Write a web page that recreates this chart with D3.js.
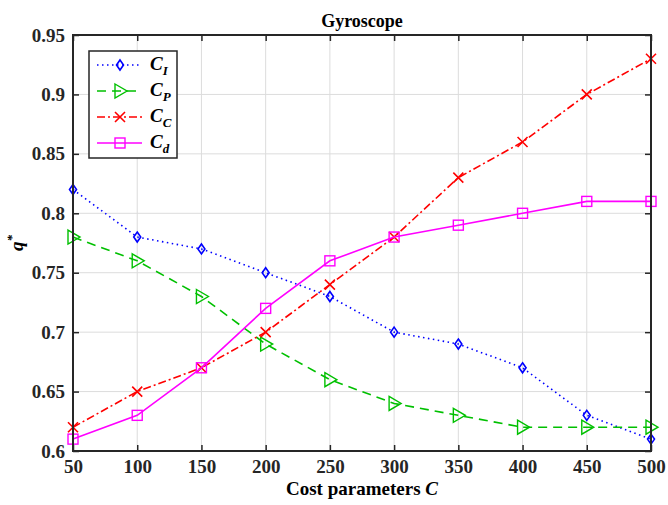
<!DOCTYPE html>
<html>
<head>
<meta charset="utf-8">
<script src="https://cdn.jsdelivr.net/npm/d3@7"></script>
</head>
<body style="margin:0">
<div id="chart"></div>
<script>
"use strict";

const costs = [50, 100, 150, 200, 250, 300, 350, 400, 450, 500];
const cI = [0.82, 0.78, 0.77, 0.75, 0.73, 0.70, 0.69, 0.67, 0.63, 0.61];
const cP = [0.78, 0.76, 0.73, 0.69, 0.66, 0.64, 0.63, 0.62, 0.62, 0.62];
const cC = [0.62, 0.65, 0.67, 0.70, 0.74, 0.78, 0.83, 0.86, 0.90, 0.93];
const cD = [0.61, 0.63, 0.67, 0.72, 0.76, 0.78, 0.79, 0.80, 0.81, 0.81];
const yTicks = [0.6, 0.65, 0.7, 0.75, 0.8, 0.85, 0.9, 0.95];

const series = [
    { name: "I", values: cI, color: "#0000ff", dash: "1.5,3.5", marker: "diamond" },
    { name: "P", values: cP, color: "#00c000", dash: "9,6", marker: "triangle" },
    { name: "C", values: cC, color: "#ff0000", dash: "8,3,2,3", marker: "cross" },
    { name: "d", values: cD, color: "#ff00ff", dash: null, marker: "square" }
];

const FONT = "Liberation Serif";
const margin = { top: 35, right: 17, bottom: 54, left: 73 };
const width = 668 - margin.left - margin.right;
const height = 505 - margin.top - margin.bottom;

const xScale = d3.scaleLinear().domain([50, 500]).range([0, width]);
const yScale = d3.scaleLinear().domain([0.6, 0.95]).range([height, 0]);

const svg = d3.select("#chart").append("svg")
              .attr("width", 668)
              .attr("height", 505)
              .attr("font-family", FONT);
const g = svg.append("g")
             .attr("transform", `translate(${margin.left}, ${margin.top})`);

// grid
g.append("g").selectAll("line").data(costs).enter().append("line")
 .attr("x1", d => xScale(d)).attr("x2", d => xScale(d))
 .attr("y1", 0).attr("y2", height)
 .attr("stroke", "#dcdcdc").attr("stroke-width", 1);
g.append("g").selectAll("line").data(yTicks).enter().append("line")
 .attr("y1", d => yScale(d)).attr("y2", d => yScale(d))
 .attr("x1", 0).attr("x2", width)
 .attr("stroke", "#dcdcdc").attr("stroke-width", 1);

// axes
const styleAxis = sel => {
    sel.attr("font-family", FONT).attr("font-size", 19);
    sel.select(".domain").remove();
    sel.selectAll("line").attr("stroke", "#262626").attr("stroke-width", 1.5);
    sel.selectAll("text")
       .attr("font-family", FONT)
       .attr("font-size", 19)
       .attr("font-weight", "bold")
       .attr("fill", "#262626");
};
g.append("g").attr("transform", `translate(0, ${height})`)
 .call(d3.axisBottom(xScale).tickValues(costs).tickSize(-6).tickPadding(9))
 .call(styleAxis);
g.append("g")
 .call(d3.axisTop(xScale).tickValues(costs).tickSize(-6).tickFormat(""))
 .call(styleAxis);
g.append("g")
 .call(d3.axisLeft(yScale).tickValues(yTicks).tickSize(-6).tickPadding(8)
         .tickFormat(d => String(+d.toFixed(2))))
 .call(styleAxis);
g.append("g").attr("transform", `translate(${width}, 0)`)
 .call(d3.axisRight(yScale).tickValues(yTicks).tickSize(-6).tickFormat(""))
 .call(styleAxis);

const drawMarker = (sel, type, color) => {
    if (type === "diamond") {
        sel.append("path").attr("d", "M0,-5L3.5,0L0,5L-3.5,0Z")
           .attr("fill", "none").attr("stroke", color).attr("stroke-width", 1.6);
    } else if (type === "triangle") {
        sel.append("path").attr("d", "M-5,-7L7,0L-5,7Z")
           .attr("fill", "none").attr("stroke", color).attr("stroke-width", 1.4);
    } else if (type === "cross") {
        sel.append("path").attr("d", "M-5,-5L5,5M-5,5L5,-5")
           .attr("fill", "none").attr("stroke", color).attr("stroke-width", 1.6);
    } else {
        sel.append("rect").attr("x", -5).attr("y", -5).attr("width", 10).attr("height", 10)
           .attr("fill", "none").attr("stroke", color).attr("stroke-width", 1.4);
    }
};

const line = d3.line()
               .x((d, i) => xScale(costs[i]))
               .y(d => yScale(d));

series.forEach(s => {
    g.append("path")
     .attr("d", line(s.values))
     .attr("fill", "none")
     .attr("stroke", s.color)
     .attr("stroke-width", 1.6)
     .attr("stroke-dasharray", s.dash);
    g.append("g").selectAll("g").data(s.values).enter().append("g")
     .attr("transform", (d, i) => `translate(${xScale(costs[i])}, ${yScale(d)})`)
     .each(function () { drawMarker(d3.select(this), s.marker, s.color); });
});

// frame
g.append("rect")
 .attr("width", width).attr("height", height)
 .attr("fill", "none").attr("stroke", "#262626").attr("stroke-width", 2);

// legend
const legend = svg.append("g").attr("transform", "translate(89, 51)");
legend.append("rect")
      .attr("width", 88).attr("height", 107)
      .attr("fill", "#fff").attr("stroke", "#262626").attr("stroke-width", 1.5);
series.forEach((s, i) => {
    const ly = 14 + i * 26;
    legend.append("line")
          .attr("x1", 8).attr("x2", 53).attr("y1", ly).attr("y2", ly)
          .attr("stroke", s.color).attr("stroke-width", 1.6)
          .attr("stroke-dasharray", s.dash);
    const m = legend.append("g").attr("transform", `translate(31, ${ly})`);
    drawMarker(m, s.marker, s.color);
    const t = legend.append("text")
                    .attr("x", 61).attr("y", ly + 5)
                    .attr("font-family", FONT)
                    .attr("font-size", 19)
                    .attr("font-weight", "bold")
                    .attr("font-style", "italic")
                    .attr("fill", "#000");
    t.append("tspan").text("C");
    t.append("tspan").attr("dy", 5).attr("font-size", 13).text(s.name);
});

// title and labels
svg.append("text")
   .attr("x", margin.left + width / 2).attr("y", 27)
   .attr("text-anchor", "middle")
   .attr("font-family", FONT)
   .attr("font-size", 18).attr("font-weight", "bold")
   .text("Gyroscope");

const xl = svg.append("text")
              .attr("x", margin.left + width / 2).attr("y", 495)
              .attr("text-anchor", "middle")
              .attr("font-family", FONT)
              .attr("font-size", 19).attr("font-weight", "bold");
xl.append("tspan").text("Cost parameters ");
xl.append("tspan").attr("font-style", "italic").text("C");

const yl = svg.append("text")
              .attr("transform", `translate(23, ${margin.top + height / 2}) rotate(-90)`)
              .attr("text-anchor", "middle")
              .attr("font-family", FONT)
              .attr("font-size", 19).attr("font-weight", "bold")
              .attr("font-style", "italic");
yl.append("tspan").text("q");
yl.append("tspan").attr("dy", -7).attr("font-size", 13).text("*");
</script>
</body>
</html>
